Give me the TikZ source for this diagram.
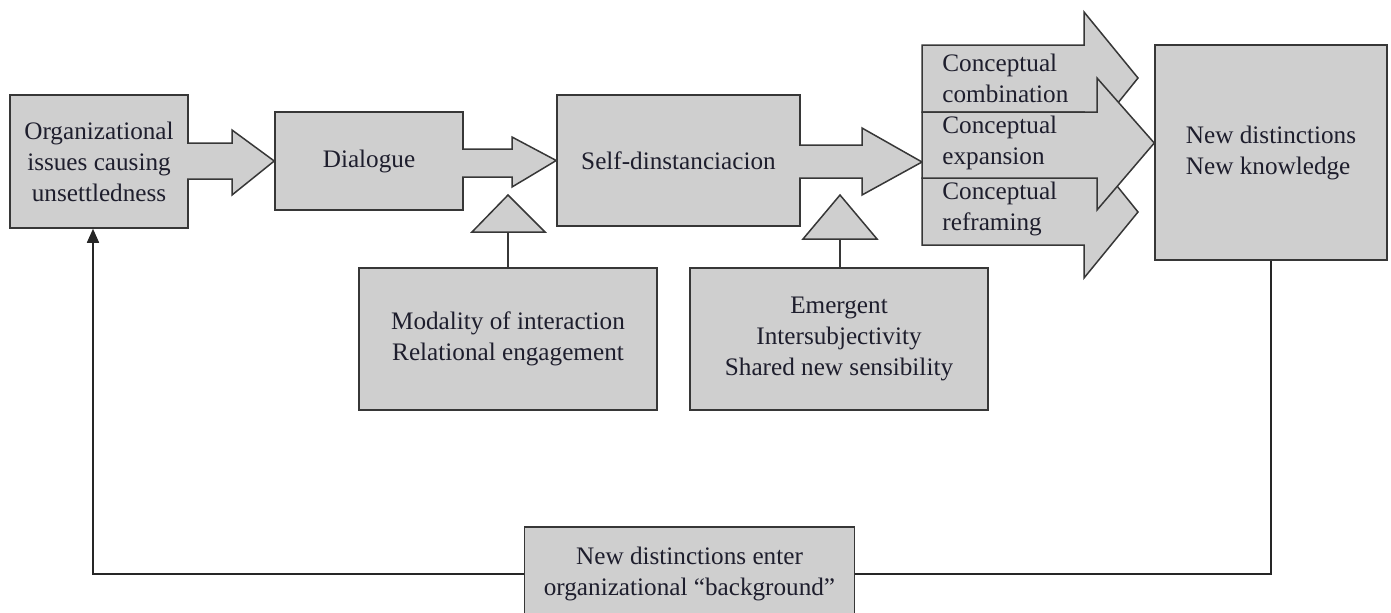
\documentclass[tikz,border=0pt]{standalone}
\usepackage{fontspec}
\setmainfont{Liberation Serif}
\usetikzlibrary{arrows.meta}
\definecolor{boxfill}{RGB}{207,207,207}
\definecolor{boxline}{RGB}{55,55,55}
\definecolor{inktext}{RGB}{30,30,45}
\tikzstyle{every path}=[line width=0.75pt]
\tikzstyle{every node}=[font=\fontsize{12.6}{15.5}\selectfont, text=inktext]
\tikzstyle{stage}=[draw=boxline, fill=boxfill, inner sep=0pt, align=center]
\tikzstyle{blockarrow}=[draw=boxline, fill=boxfill, line join=miter]

\begin{document}
\begin{tikzpicture}[x=0.5pt, y=-0.5pt, color=boxline]
            \useasboundingbox (0,0) rectangle (1391,612);
            % boxes
            \node[stage, minimum width=89pt, minimum height=66.5pt] (org) at (99,161.5)
                {Organizational\\issues causing\\unsettledness};
            \node[stage, minimum width=94pt, minimum height=49pt] (dia) at (369,161) {Dialogue};
            \node[stage, minimum width=121.5pt, minimum height=65.5pt] (self) at (678.5,160.5) {Self-dinstanciacion};
            \node[stage, minimum width=149pt, minimum height=71pt] (modal) at (508,339)
                {Modality of interaction\\Relational engagement};
            \node[stage, minimum width=149pt, minimum height=71pt] (emerg) at (839,339)
                {Emergent\\Intersubjectivity\\Shared new sensibility};
            \node[stage, minimum width=116pt, minimum height=107.5pt, align=left] (newk) at (1271,152.5)
                {New distinctions\\New knowledge};
            \node[stage, minimum width=165pt, minimum height=47pt] (bg) at (689.5,574)
                {New distinctions enter\\organizational ``background''};
            % block arrows
            \draw[blockarrow] (187,143) -- (232,143) -- (232,130) -- (dia.west)
                -- (232,195) -- (232,179) -- (187,179);
            \draw[blockarrow] (462,149) -- (512,149) -- (512,137) -- (self.west)
                -- (512,187) -- (512,177) -- (462,177);
            \draw[blockarrow] (799,145) -- (862,145) -- (862,128) -- (922,162)
                -- (862,195) -- (862,178) -- (799,178);
            \draw[blockarrow] (922,45) -- (1084,45) -- (1084,12) -- (1138,78)
                -- (1084,145) -- (1084,112) -- (922,112) -- cycle;
            \draw[blockarrow] (922,178) -- (1084,178) -- (1084,145) -- (1138,212)
                -- (1084,278) -- (1084,245) -- (922,245) -- cycle;
            \draw[blockarrow] (922,112) -- (1097,112) -- (1097,78) -- (newk.west |- 0,143)
                -- (1097,210) -- (1097,178) -- (922,178) -- cycle;
            \node[align=left, anchor=west] (comb) at (935,78) {Conceptual\\combination};
            \node[align=left, anchor=west] (expa) at (935,143) {Conceptual\\expansion};
            \node[align=left, anchor=west] (refr) at (935,209) {Conceptual\\reframing};
            % supports
            \draw[fill=boxfill] (508,195) -- (545,232) -- (472,232) -- cycle;
            \draw (modal.north) -- (508,232);
            \draw[fill=boxfill] (840,195) -- (877,239) -- (803,239) -- cycle;
            \draw (emerg.north -| 840,0) -- (840,239);
            % feedback loop
            \draw[draw=black!85] (newk.south) |- (bg.east);
            \draw[draw=black!85, -{Triangle[width=6pt,length=7pt]}] (bg.west) -| ([xshift=-3pt]org.south);
        \end{tikzpicture}
\end{document}
